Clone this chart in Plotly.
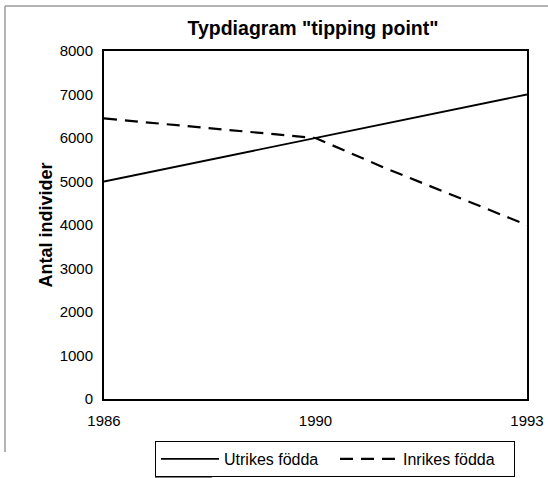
import plotly.graph_objects as go

# Evenly spaced category slots; only some carry a year label
slots = [0, 1, 2, 3, 4, 5, 6]
tick_slots = [0, 3, 6]
tick_labels = ["1986", "1990", "1993"]

utrikes = [5000, 5333, 5667, 6000, 6333, 6667, 7000]
inrikes = [6450, 6300, 6150, 6000, 5300, 4650, 4000]

FONT = "Liberation Sans, Arial, sans-serif"

# plot area in pixels (used to place the decorative frame lines)
L, R, T, B = 104, 527, 51, 399
W, H = 548, 478


def px_x(x):
    return (x - L) / (R - L)


def px_y(y):
    return (B - y) / (B - T)


fig = go.Figure()
fig.add_trace(go.Scatter(
    x=slots, y=utrikes, mode="lines", name="Utrikes födda",
    line=dict(color="black", width=1.8),
))
fig.add_trace(go.Scatter(
    x=slots, y=inrikes, mode="lines", name="Inrikes födda",
    line=dict(color="black", width=2.2, dash="13px,8px"),
))

axis_common = dict(
    showgrid=False, zeroline=False, showline=True, mirror=True,
    linecolor="black", linewidth=2, automargin=False,
    tickfont=dict(family=FONT, size=15, color="black"),
)

fig.update_layout(
    width=W, height=H,
    margin=dict(l=L, r=W - R, t=T, b=H - B, autoexpand=False),
    paper_bgcolor="white", plot_bgcolor="white",
    title=dict(
        text="<b>Typdiagram \"tipping point\"</b>",
        x=px_x(313), xref="paper", xanchor="center",
        y=1 - 28 / H, yref="container", yanchor="middle",
        font=dict(family=FONT, size=19.5, color="black"),
    ),
    xaxis=dict(
        range=[0, 6], tickmode="array", tickvals=tick_slots, ticktext=tick_labels,
        ticks="outside", ticklen=7, tickcolor="rgba(0,0,0,0)",
        **axis_common,
    ),
    yaxis=dict(
        range=[0, 8000], tickmode="array",
        tickvals=list(range(0, 8001, 1000)),
        ticks="outside", ticklen=6, tickcolor="rgba(0,0,0,0)",
        title=dict(text="<b>Antal individer</b>", standoff=2,
                   font=dict(family=FONT, size=18, color="black")),
        **axis_common,
    ),
    legend=dict(
        orientation="h", x=px_x(155), xanchor="left",
        y=px_y(441), yanchor="top",
        bordercolor="black", borderwidth=1, bgcolor="white",
        itemwidth=58, entrywidth=106,
        font=dict(family=FONT, size=16, color="black"),
    ),
    showlegend=True,
)

# light outer frame along the top and left
fig.add_shape(type="line", xref="paper", yref="paper",
              x0=px_x(5), x1=px_x(W + 5), y0=px_y(6), y1=px_y(6),
              line=dict(color="#9a9a9a", width=1.5))
fig.add_shape(type="line", xref="paper", yref="paper",
              x0=px_x(5), x1=px_x(5), y0=px_y(6), y1=px_y(452),
              line=dict(color="#9a9a9a", width=1.5))
# short dark rule under the legend's left edge
fig.add_shape(type="line", xref="paper", yref="paper",
              x0=px_x(155), x1=px_x(212), y0=px_y(476), y1=px_y(476),
              line=dict(color="black", width=3))

fig.write_html("out.html")
